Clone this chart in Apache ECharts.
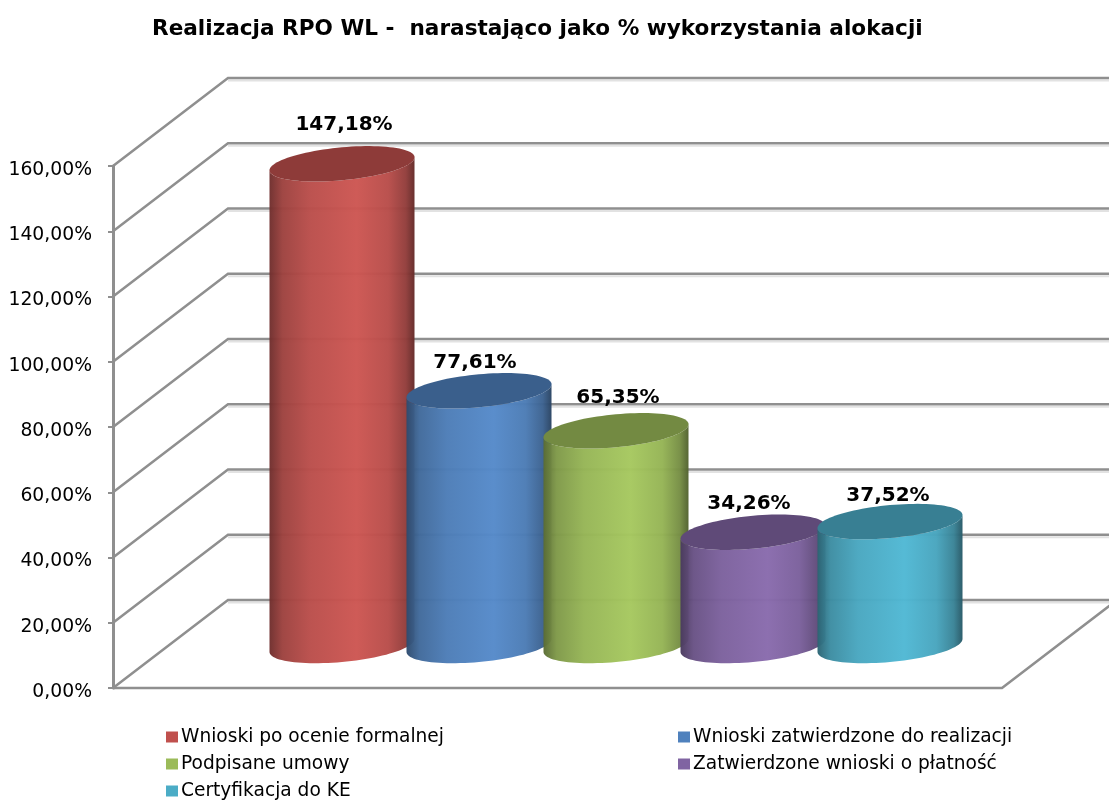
<!DOCTYPE html>
<html><head><meta charset="utf-8">
<style>html,body{margin:0;padding:0;background:#fff}#c{width:1109px;height:800px}</style>
<script src="https://cdn.jsdelivr.net/npm/echarts@6/dist/echarts.min.js"></script>
</head><body><div id="c"></div>
<script>
const titleText = 'Realizacja RPO WL -  narastająco jako % wykorzystania alokacji';
const seriesNames = ['Wnioski po ocenie formalnej','Wnioski zatwierdzone do realizacji','Podpisane umowy','Zatwierdzone wnioski o płatność','Certyfikacja do KE'];
const seriesValues = [147.18, 77.61, 65.35, 34.26, 37.52];
const seriesColors = ['#c0504d','#4f81bd','#9bbb59','#8064a2','#4bacc6'];
const yTicks = [0,20,40,60,80,100,120,140,160];
const labelShift = [[2,-83.5],[-4,-72],[2,-76.5],[-4,-72],[-2,-69.5]];

const FONT = '"DejaVu Sans", Verdana, sans-serif';
const GRAY = '#8f8f8f';
const DEPTH_X = 115, DEPTH_Y = -88;
const BASE_RISE = 42.5, TOP_RISE = 44;
const RX = 72.5, RY = 16.5, TILT = 6.5;

function shade(hex, k) {
  const n = parseInt(hex.slice(1), 16);
  const c = [n >> 16, (n >> 8) & 255, n & 255].map(v => Math.min(255, Math.round(v * k)));
  return 'rgb(' + c.join(',') + ')';
}
function pct(v) { return v.toFixed(2).replace('.', ',') + '%'; }
function arc(cx, cy, from, to, n) {
  const pts = [];
  for (let i = 0; i <= n; i++) {
    const t = from + (to - from) * i / n;
    pts.push([cx + RX * Math.cos(t), cy - TILT * Math.cos(t) + RY * Math.sin(t)]);
  }
  return pts;
}
function cylinder(i) {
  return function (params, api) {
    const color = seriesColors[i];
    const top = api.coord([i, api.value(1)]);
    const base = api.coord([i, 0]);
    const cx = top[0], ty = top[1] - TOP_RISE, by = base[1] - BASE_RISE;
    const side = arc(cx, ty, Math.PI, 0, 48).concat(arc(cx, by, 0, Math.PI, 48));
    const fill = new echarts.graphic.LinearGradient(0, 0, 1, 0, [
      {offset: 0, color: shade(color, .58)},
      {offset: .09, color: shade(color, .82)},
      {offset: .28, color: shade(color, .97)},
      {offset: .6, color: shade(color, 1.07)},
      {offset: .82, color: shade(color, .96)},
      {offset: .94, color: shade(color, .76)},
      {offset: 1, color: shade(color, .52)}
    ]);
    return {type: 'group', children: [
      {type: 'polygon', shape: {points: side}, style: {fill: fill, opacity: .97}},
      {type: 'polygon', shape: {points: arc(cx, ty, 0, Math.PI * 2, 96)}, style: {fill: shade(color, .74)}},
      {type: 'text', style: {
        text: pct(api.value(1)), x: cx + labelShift[i][0], y: top[1] + labelShift[i][1],
        align: 'center', verticalAlign: 'middle',
        font: 'bold 20px ' + FONT, fill: '#000'
      }}
    ]};
  };
}
function wall(params, api) {
  const v = api.value(0);
  const a = api.coord([0, v]), b = api.coord([1, v]);
  const bk = [a[0] + DEPTH_X, a[1] + DEPTH_Y], br = [b[0] + DEPTH_X, b[1] + DEPTH_Y];
  const line = {stroke: GRAY, lineWidth: 2.5, fill: 'none', lineJoin: 'miter'};
  const kids = [
    {type: 'line', shape: {x1: bk[0], y1: bk[1] + 2.5, x2: br[0], y2: br[1] + 2.5}, style: {stroke: '#e2e2e2', lineWidth: 2}},
    {type: 'polyline', shape: {points: [a, bk, br]}, style: line}
  ];
  if (v === 0) {
    kids.push({type: 'polyline', shape: {points: [a, b, br]}, style: line});
  }
  return {type: 'group', children: kids};
}
const legendBase = {
  top: 726, height: 100, orient: 'vertical', itemWidth: 12, itemHeight: 11, itemGap: 5,
  icon: 'rect', selectedMode: false, padding: 0,
  textStyle: {fontFamily: FONT, fontSize: 18.6, color: '#000', lineHeight: 22, padding: [0, 0, 0, -2]}
};

const option = {
  animation: false,
  backgroundColor: '#fff',
  title: {text: titleText, left: 147, top: 13, textStyle: {fontFamily: FONT, fontWeight: 'bold', fontSize: 21.6, color: '#000'}},
  grid: [
    {left: 113, top: 166, width: 889, height: 522},
    {left: 273.5, top: 166, width: 685, height: 522}
  ],
  xAxis: [
    {type: 'value', gridIndex: 0, min: 0, max: 1, show: false},
    {type: 'category', gridIndex: 1, data: seriesNames, show: false}
  ],
  yAxis: [
    {type: 'value', gridIndex: 0, min: 0, max: 160, interval: 20,
      splitLine: {show: false},
      axisLine: {show: true, lineStyle: {color: GRAY, width: 3}},
      axisTick: {show: true, length: 5, lineStyle: {color: GRAY, width: 2}},
      axisLabel: {margin: 21, fontFamily: FONT, fontSize: 18.8, color: '#000', verticalAlign: 'top', lineHeight: 22, padding: [-7, 0, 0, 0], formatter: v => pct(v)}},
    {type: 'value', gridIndex: 1, min: 0, max: 160, interval: 20, show: false}
  ],
  legend: [
    Object.assign({}, legendBase, {data: [seriesNames[0], seriesNames[2], seriesNames[4]], left: 166}),
    Object.assign({}, legendBase, {data: [seriesNames[1], seriesNames[3]], left: 678})
  ],
  series: [
    {type: 'custom', name: 'walls', xAxisIndex: 0, yAxisIndex: 0, silent: true, renderItem: wall, data: yTicks.map(v => [v]), encode: {x: -1, y: 0}, clip: false}
  ].concat(seriesNames.map((name, i) => ({
    type: 'custom', name: name, xAxisIndex: 1, yAxisIndex: 1,
    itemStyle: {color: seriesColors[i]},
    renderItem: cylinder(i),
    data: [[i, seriesValues[i]]], encode: {x: 0, y: 1}, clip: false
  })))
};
echarts.init(document.getElementById('c')).setOption(option);
</script></body></html>
